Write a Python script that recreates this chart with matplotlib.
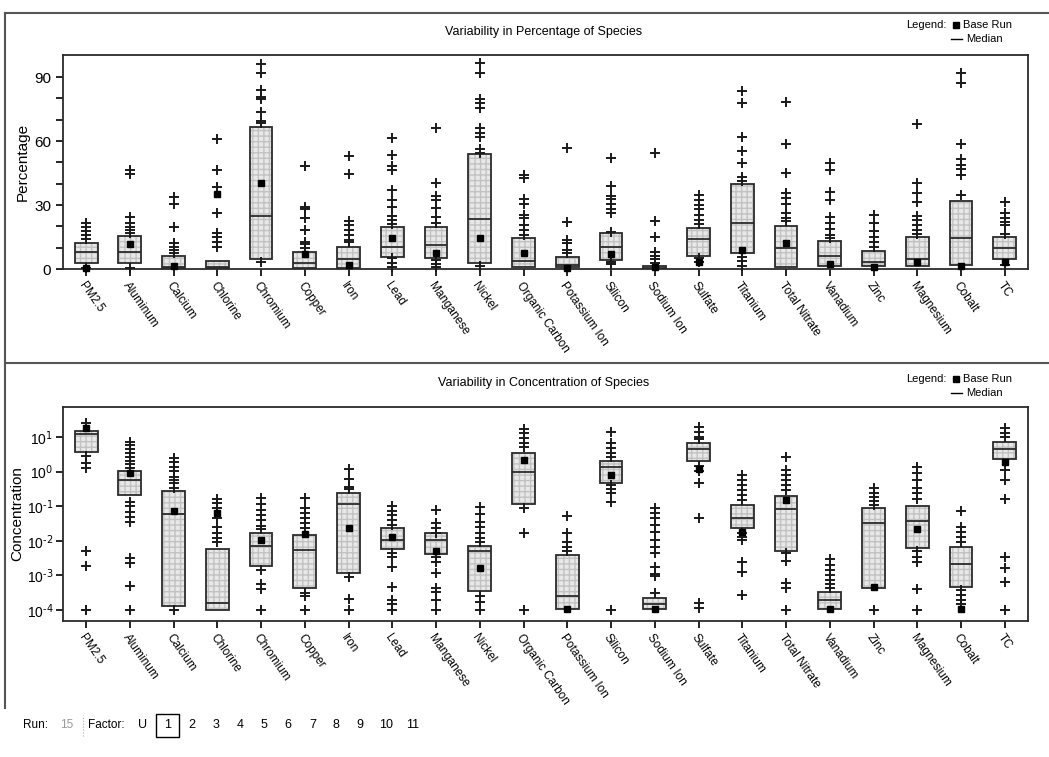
import numpy as np
import matplotlib
matplotlib.use("Agg")
import matplotlib.pyplot as plt
from matplotlib.patches import Rectangle

plt.rcParams['font.family'] = ['Liberation Sans', 'DejaVu Sans']

species = ['PM2.5', 'Aluminum', 'Calcium', 'Chlorine', 'Chromium', 'Copper', 'Iron',
           'Lead', 'Manganese', 'Nickel', 'Organic Carbon', 'Potassium Ion', 'Silicon',
           'Sodium Ion', 'Sulfate', 'Titanium', 'Total Nitrate', 'Vanadium', 'Zinc',
           'Magnesium', 'Cobalt', 'TC']

# ---- percentage of species (top panel) ----
pct_q1 = [2.7, 2.7, 0.3, 0.3, 4.5, 0.3, 0.3, 5.8, 5.3, 2.7, 0.8, 0.8, 4.2,
          0.2, 6.3, 7.4, 1.1, 1.4, 1.4, 1.4, 1.9, 4.7]
pct_med = [8.1, 8.1, 1.0, 1.0, 25.0, 2.7, 4.9, 10.5, 11.3, 23.3, 3.9, 2.0, 10.5,
           0.6, 13.9, 21.7, 9.7, 6.1, 3.5, 4.5, 14.4, 10.0]
pct_q3 = [12.3, 15.5, 6.1, 3.9, 66.7, 7.8, 10.5, 19.9, 19.9, 53.8, 14.7, 5.8, 16.7,
          1.2, 19.1, 39.7, 20.3, 13.1, 8.5, 15.2, 32.0, 15.2]
pct_base = [0.5, 11.7, 1.4, 35.2, 40.5, 7.0, 1.9, 14.4, 7.4, 14.7, 7.4, 0.3, 7.0,
            1.1, 3.4, 8.9, 12.4, 2.2, 1.1, 3.5, 1.4, 3.1]
pct_out = [
    [21.4, 19.8, 17.8, 15.9, 13.9, 0.3],
    [46.4, 44.6, 24.5, 21.4, 19.9, 18.3, 17.0, 0.3],
    [33.9, 30.5, 19.9, 12.0, 10.5, 8.9, 7.4],
    [60.8, 46.4, 38.6, 26.4, 17.0, 15.2, 12.8, 10.5],
    [96.1, 91.7, 83.9, 80.8, 79.5, 73.8, 69.5, 68.6, 3.5],
    [48.3, 29.2, 28.0, 24.1, 18.3, 12.8, 11.7, 9.7],
    [53.0, 44.4, 22.5, 20.6, 18.3, 16.0, 13.6, 12.8],
    [61.6, 53.4, 48.4, 46.4, 37.0, 32.3, 29.2, 24.8, 23.0, 21.1, 5.0, 2.7, 1.1],
    [65.9, 40.5, 34.4, 32.4, 28.5, 24.5, 21.7, 4.2, 2.2, 1.1],
    [96.4, 91.7, 79.5, 77.7, 75.3, 65.9, 63.6, 61.7, 56.3, 54.2, 1.4],
    [44.1, 42.5, 32.8, 30.5, 25.3, 23.8, 20.6, 18.3, 16.0],
    [56.6, 22.2, 13.6, 12.0, 8.9, 7.4],
    [51.9, 38.9, 34.4, 32.7, 30.5, 28.1, 26.1, 17.2, 3.5, 2.2],
    [54.5, 22.7, 15.2, 8.2, 6.1, 4.5, 2.7],
    [34.7, 32.4, 30.0, 28.0, 25.3, 23.0, 20.9, 5.0, 3.1],
    [83.6, 77.7, 61.7, 55.3, 49.5, 43.3, 41.3, 5.8, 3.8, 1.4],
    [78.5, 58.4, 45.2, 35.5, 33.4, 30.3, 26.1, 23.8, 22.7],
    [49.5, 46.4, 36.0, 32.4, 24.5, 21.4, 18.6, 16.0, 14.4],
    [25.3, 21.7, 17.8, 15.2, 12.8, 10.5],
    [68.0, 40.2, 35.5, 31.3, 25.0, 23.0, 20.6, 18.3, 16.3],
    [91.7, 87.0, 58.4, 51.4, 48.8, 46.7, 44.1, 34.7],
    [31.6, 26.4, 23.8, 22.2, 20.6, 16.3, 1.9],
]

# ---- concentration of species (bottom panel), log10 values ----
conc_q1 = [0.56, -0.68, -3.90, -4.0, -2.73, -3.37, -2.94, -2.24, -2.39, -3.44, -0.95,
           -3.98, -0.32, -3.98, 0.32, -1.64, -2.29, -3.98, -3.37, -2.22, -3.33, 0.36]
conc_med = [1.08, -0.24, -1.24, -3.81, -2.15, -2.27, -0.95, -1.98, -1.98, -2.31, 0.0,
            -3.60, 0.14, -3.83, 0.64, -1.33, -1.08, -3.71, -1.50, -1.43, -2.67, 0.65]
conc_q3 = [1.17, 0.03, -0.55, -2.25, -1.77, -1.83, -0.61, -1.64, -1.78, -2.14, 0.53,
           -2.41, 0.31, -3.66, 0.82, -0.97, -0.70, -3.47, -1.04, -0.99, -2.17, 0.87]
conc_base = [1.27, -0.03, -1.14, -1.19, -1.98, -1.80, -1.62, -1.88, -2.31, -2.80, 0.34,
             -3.98, -0.10, -3.98, 0.08, -1.74, -0.82, -3.98, -3.33, -1.67, -3.98, 0.29]
conc_out = [
    [1.41, 0.46, 0.24, 0.11, -2.31, -2.72, -4.0, -4.0],
    [0.87, 0.77, 0.64, 0.53, 0.41, 0.31, 0.21, 0.11, -0.87, -1.0, -1.16, -1.30, -1.45,
     -2.51, -2.65, -3.31, -4.0],
    [0.38, 0.29, 0.14, 0.02, -0.15, -0.24, -0.34, -0.46, -4.0],
    [-0.80, -0.92, -1.06, -1.35, -1.59, -1.77, -1.91, -2.03],
    [-0.77, -0.94, -1.11, -1.26, -1.40, -1.57, -1.67, -2.86, -3.26, -3.40, -4.0],
    [-0.77, -1.06, -1.21, -1.35, -1.50, -1.64, -3.50, -3.61, -4.0],
    [0.09, -0.20, -0.44, -0.51, -3.04, -3.69, -4.0],
    [-1.0, -1.14, -1.26, -1.40, -1.54, -2.34, -2.46, -2.75, -3.33, -3.71, -3.84, -4.0],
    [-1.11, -1.50, -1.64, -1.77, -2.46, -2.62, -2.94, -3.36, -3.49, -3.71, -4.0],
    [-1.01, -1.23, -1.45, -1.59, -1.77, -1.93, -2.05, -3.60, -3.76, -4.0],
    [1.22, 1.11, 0.96, 0.84, 0.72, -1.06, -1.78, -4.0],
    [-1.28, -1.78, -2.03, -2.17, -2.31],
    [1.14, 0.82, 0.67, 0.55, 0.43, -0.39, -0.51, -0.63, -0.87, -4.0],
    [-1.06, -1.21, -1.35, -1.54, -1.74, -1.98, -2.17, -2.36, -2.75, -2.96, -3.02, -3.52],
    [1.30, 1.15, 1.01, 0.93, 0.16, 0.03, -0.34, -1.35, -3.79, -3.95],
    [-0.10, -0.24, -0.39, -0.53, -0.68, -0.82, -1.77, -1.88, -1.98, -2.60, -2.89, -3.57],
    [0.41, 0.05, -0.10, -0.24, -0.39, -0.53, -2.36, -2.58, -3.23, -3.37, -4.0],
    [-2.54, -2.70, -2.84, -2.99, -3.13, -3.26, -3.37],
    [-0.48, -0.61, -0.73, -0.85, -0.97, -4.0],
    [0.14, -0.05, -0.24, -0.46, -0.61, -0.80, -2.31, -2.46, -2.60, -3.40, -4.0],
    [-1.13, -1.61, -1.74, -1.90, -2.03, -3.42, -3.57, -3.71, -3.84],
    [1.25, 1.11, 0.99, 0.05, -0.24, -0.80, -2.46, -2.80, -3.18, -4.0],
]

run_no = '15'
factors = ['U', '1', '2', '3', '4', '5', '6', '7', '8', '9', '10', '11']


def draw_panel(ax, q1, med, q3, base, out):
    x = np.arange(len(species))
    w = 0.52
    q1 = np.array(q1); q3 = np.array(q3)
    # dotted grey fill, then dark outline
    ax.bar(x, q3 - q1, bottom=q1, width=w, color='#e8e8e8', edgecolor='#c2c2c2',
           hatch='+++', linewidth=0, zorder=2)
    ax.bar(x, q3 - q1, bottom=q1, width=w, fill=False, edgecolor='#2b2b2b',
           linewidth=1.3, zorder=3)
    ax.hlines(med, x - w / 2, x + w / 2, colors='#2b2b2b', linewidth=1.3, zorder=4)
    for i, vals in enumerate(out):
        ax.plot([x[i]] * len(vals), vals, '+', color='#1a1a1a', markersize=7.5,
                markeredgewidth=1.4, zorder=5, clip_on=False)
    ax.plot(x, base, 's', color='black', markersize=5, zorder=6, clip_on=False)
    ax.set_xlim(-0.53, len(species) - 0.47)
    ax.set_xticks(x)
    ax.set_xticklabels(species, rotation=-55, ha='left', va='top',
                       rotation_mode='anchor', fontsize=8.5)
    ax.tick_params(axis='x', length=5, width=1.2, pad=3)
    for s in ax.spines.values():
        s.set_linewidth(1.3)
        s.set_color('#2b2b2b')


fig = plt.figure(figsize=(10.49, 7.57), dpi=100)

# top panel
ax1 = fig.add_axes([0.060, 0.6446, 0.920, 0.2827])
draw_panel(ax1, pct_q1, pct_med, pct_q3, pct_base, pct_out)
ax1.set_ylim(0, 100.3)
ax1.set_yticks([0, 30, 60, 90])
ax1.set_yticks(np.arange(0, 100, 10), minor=True)
ax1.tick_params(axis='y', which='both', length=5, width=1.2, labelsize=11)
ax1.set_ylabel('Percentage', fontsize=11)
ax1.yaxis.set_label_coords(-0.034, 0.5)

# bottom panel
ax2 = fig.add_axes([0.060, 0.1797, 0.920, 0.2827])
draw_panel(ax2, 10.0 ** np.array(conc_q1), 10.0 ** np.array(conc_med),
           10.0 ** np.array(conc_q3), 10.0 ** np.array(conc_base),
           [10.0 ** np.array(v) for v in conc_out])
ax2.set_yscale('log')
ax2.set_ylim(10 ** -4.32, 10 ** 1.87)
ax2.set_yticks([1e-4, 1e-3, 1e-2, 1e-1, 1e0, 1e1])
ax2.set_yticklabels([r'10$^{\text{-}4}$', r'10$^{\text{-}3}$', r'10$^{\text{-}2}$',
                     r'10$^{\text{-}1}$', r'10$^{0}$', r'10$^{1}$'])
ax2.yaxis.set_minor_locator(matplotlib.ticker.NullLocator())
ax2.tick_params(axis='y', length=5, width=1.2, labelsize=10, pad=2)
ax2.set_ylabel('Concentration', fontsize=11)
ax2.yaxis.set_label_coords(-0.040, 0.5)

# panel titles and legends
for ty, title in [(0.958, 'Variability in Percentage of Species'),
                  (0.494, 'Variability in Concentration of Species')]:
    fig.text(0.518, ty, title, ha='center', va='center', fontsize=9)
for ly in [0.967, 0.500]:
    fig.text(0.864, ly, 'Legend:', ha='left', va='center', fontsize=8)
    fig.lines.append(plt.Line2D([0.911], [ly], marker='s', color='black',
                                markersize=4, transform=fig.transFigure))
    fig.text(0.918, ly, 'Base Run', ha='left', va='center', fontsize=8)
    fig.lines.append(plt.Line2D([0.907, 0.917], [ly - 0.019, ly - 0.019], color='black',
                                linewidth=1, transform=fig.transFigure))
    fig.text(0.921, ly - 0.019, 'Median', ha='left', va='center', fontsize=8)

# window frame lines
frame = dict(color='#555555', linewidth=1.5, transform=fig.transFigure)
fig.lines.append(plt.Line2D([0.005, 1.0], [0.983, 0.983], **frame))
fig.lines.append(plt.Line2D([0.005, 1.0], [0.521, 0.521], **frame))
fig.lines.append(plt.Line2D([0.005, 0.005], [0.983, 0.065], **frame))

# status bar
sy = 0.042
fig.text(0.022, sy, 'Run:', ha='left', va='center', fontsize=8.5)
fig.text(0.057, sy, run_no, ha='left', va='center', fontsize=8.5, color='#999999')
fig.lines.append(plt.Line2D([0.079, 0.079], [sy - 0.014, sy + 0.014], color='#aaaaaa',
                            linewidth=0.8, linestyle=':', transform=fig.transFigure))
fig.text(0.084, sy, 'Factor:', ha='left', va='center', fontsize=8.5)
fx = [0.136, 0.160, 0.183, 0.206, 0.229, 0.252, 0.274, 0.298, 0.320, 0.343, 0.368, 0.393]
for f, xx in zip(factors, fx):
    fig.text(xx, sy, f, ha='center', va='center', fontsize=9)
fig.patches.append(Rectangle((0.149, sy - 0.015), 0.022, 0.030, fill=False,
                             edgecolor='black', linewidth=1, transform=fig.transFigure))

fig.savefig('out.png', dpi=100, facecolor='white')
